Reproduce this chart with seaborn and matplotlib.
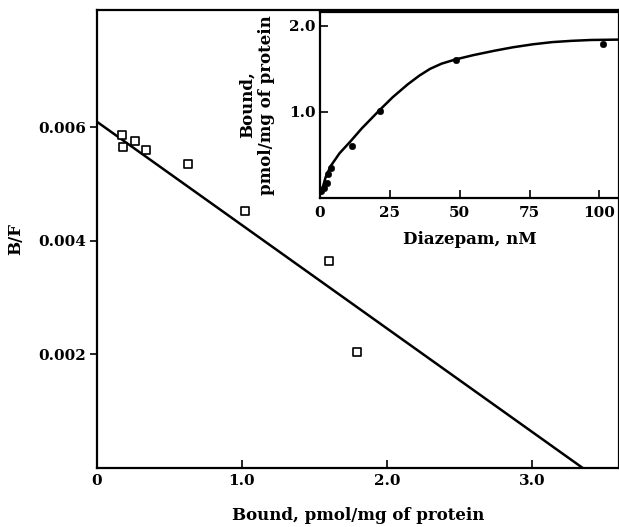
import matplotlib
matplotlib.use("Agg")
import matplotlib.pyplot as plt
import seaborn as sns

# Scatchard plot data (main panel)
bound = [0.17, 0.18, 0.26, 0.34, 0.63, 1.02, 1.60, 1.79]
bf = [0.00587, 0.00566, 0.00577, 0.00561, 0.00536, 0.00452, 0.00365, 0.00205]
# fitted line endpoints
fit_x = [0.0, 3.35]
fit_y = [0.0061, 0.0]
main_xticks = [0, 1.0, 2.0, 3.0]
main_xticklabels = ["0", "1.0", "2.0", "3.0"]
main_yticks = [0.002, 0.004, 0.006]
main_yticklabels = ["0.002", "0.004", "0.006"]

# Saturation data (inset)
diaz = [0.5, 1.3, 2.4, 2.9, 3.8, 11.3, 21.3, 48.6, 101.1]
sat_bound = [0.08, 0.12, 0.17, 0.28, 0.35, 0.60, 1.01, 1.60, 1.79]
curve_x = [0.0, 0.6, 2.0, 3.8, 7.0, 10.7, 15.0, 21.3, 26.0, 31.4, 35.5,
           39.4, 43.5, 48.6, 55.0, 62.4, 69.0, 76.2, 83.0, 90.0, 97.0, 108.0]
curve_y = [0.04, 0.08, 0.24, 0.37, 0.52, 0.65, 0.81, 1.02, 1.17, 1.32, 1.42,
           1.50, 1.56, 1.61, 1.66, 1.71, 1.75, 1.785, 1.81, 1.825, 1.835, 1.84]
inset_xticks = [0, 25, 50, 75, 100]
inset_yticks = [1.0, 2.0]
inset_yticklabels = ["1.0", "2.0"]

sns.set_style("ticks")
plt.rcParams['font.family'] = ['DejaVu Serif']
plt.rcParams['font.weight'] = 'bold'
plt.rcParams['text.color'] = 'black'
plt.rcParams['axes.labelcolor'] = 'black'
plt.rcParams['xtick.color'] = 'black'
plt.rcParams['ytick.color'] = 'black'
plt.rcParams['axes.edgecolor'] = 'black'

fig = plt.figure(figsize=(6.19, 5.27), dpi=100)
ax = fig.add_axes([97/619, 59/527, 1 - 97/619, (468-10)/527])

sns.scatterplot(x=bound, y=bf, ax=ax, marker='s', s=40, facecolor='white',
                edgecolor='black', linewidth=1.2, zorder=3)
sns.lineplot(x=fit_x, y=fit_y, ax=ax, color='black', linewidth=1.8,
             estimator=None, sort=False)
ax.set_xlim(0, 3.6)
ax.set_ylim(0, 0.00807)
ax.set_xticks(main_xticks)
ax.set_xticklabels(main_xticklabels)
ax.set_yticks(main_yticks)
ax.set_yticklabels(main_yticklabels)
ax.tick_params(axis='x', direction='in', length=6, width=1.2, labelsize=11, pad=4)
ax.tick_params(axis='y', direction='out', length=5, width=1.2, labelsize=11, pad=3)
for sp in ax.spines.values():
    sp.set_linewidth(1.6)
ax.set_xlabel("Bound, pmol/mg of protein", fontsize=12, fontweight='bold', labelpad=14)
ax.set_ylabel("B/F", fontsize=12, fontweight='bold', labelpad=10)

# inset
ins = fig.add_axes([320/619, (527-198)/527, 1 - 320/619, (198-12)/527])
sns.scatterplot(x=diaz, y=sat_bound, ax=ins, marker='o', s=22, color='black',
                edgecolor='black', zorder=3)
sns.lineplot(x=curve_x, y=curve_y, ax=ins, color='black', linewidth=1.8,
             estimator=None, sort=False)
ins.set_xlim(0, 107)
ins.set_ylim(0, 2.16)
ins.set_xticks(inset_xticks)
ins.set_yticks(inset_yticks)
ins.set_yticklabels(inset_yticklabels)
ins.tick_params(axis='x', direction='in', length=6, width=1.2, labelsize=11, pad=6)
ins.tick_params(axis='y', direction='in', length=6, width=1.2, labelsize=11, pad=3)
for sp in ins.spines.values():
    sp.set_linewidth(1.6)
ins.set_xlabel("Diazepam, nM", fontsize=12, fontweight='bold', labelpad=8)
ins.set_ylabel("Bound,\npmol/mg of protein", fontsize=12, fontweight='bold', labelpad=10)

fig.savefig("out.png", dpi=100)
